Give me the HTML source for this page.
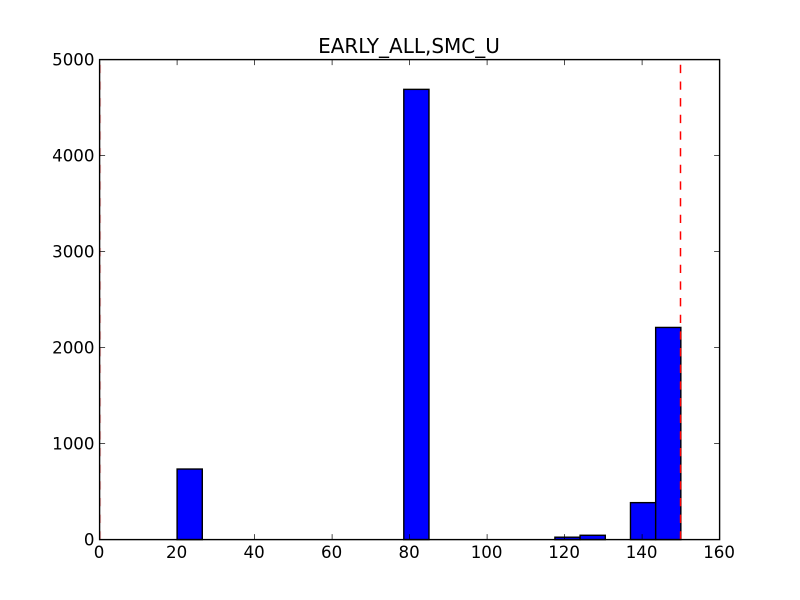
<!DOCTYPE html>
<html lang="en">
<head>
<meta charset="utf-8">
<title>EARLY_ALL,SMC_U</title>
<style>
html,body{margin:0;padding:0;background:#fff;}
svg{display:block;}
text{font-family:"DejaVu Sans",sans-serif;fill:#000;}
</style>
</head>
<body>
<svg id="chart" xmlns="http://www.w3.org/2000/svg" width="800" height="600" viewBox="0 0 800 600">
<rect width="800" height="600" fill="#fff"/>
<text id="title" x="409" y="53" font-size="20" text-anchor="middle">EARLY_ALL,SMC_U</text>
<g id="bars"></g>
<g id="reflines"></g>
<g id="axes"></g>
</svg>
<script>
const binEdges = [20, 26.5, 33, 39.5, 46, 52.5, 59, 65.5, 72, 78.5, 85, 91.5, 98, 104.5, 111, 117.5, 124, 130.5, 137, 143.5, 150];
const counts = [735, 0, 0, 0, 0, 0, 0, 0, 0, 4690, 0, 0, 0, 0, 0, 25, 45, 0, 385, 2210];
const referenceValues = [0, 150];
const xTicks = [0, 20, 40, 60, 80, 100, 120, 140, 160];
const yTicks = [0, 1000, 2000, 3000, 4000, 5000];
const xDomain = [0, 160];
const yDomain = [0, 5000];

const plot = { left: 99.6, right: 719.6, top: 59.6, bottom: 539.6 };
const NS = 'http://www.w3.org/2000/svg';
function xScale(v) { return plot.left + (v - xDomain[0]) / (xDomain[1] - xDomain[0]) * (plot.right - plot.left); }
function yScale(v) { return plot.bottom - (v - yDomain[0]) / (yDomain[1] - yDomain[0]) * (plot.bottom - plot.top); }
function make(tag, attrs, parent) {
  const el = document.createElementNS(NS, tag);
  for (const k in attrs) el.setAttribute(k, attrs[k]);
  parent.appendChild(el);
  return el;
}

const barsG = document.getElementById('bars');
counts.forEach(function (c, i) {
  const x0 = xScale(binEdges[i]);
  const x1 = xScale(binEdges[i + 1]);
  const y = yScale(c);
  const bar = make('rect', { x: x0, y: y, width: x1 - x0, height: plot.bottom - y, fill: '#0000ff', stroke: '#000', 'stroke-width': 1.4 }, barsG);
  
  
});

const axesG = document.getElementById('axes');
const tickLen = 5.5;
xTicks.forEach(function (v) {
  const x = xScale(v);
  const bottomTick = make('line', { x1: x, x2: x, y1: plot.bottom, y2: plot.bottom - tickLen, stroke: '#000', 'stroke-width': 0.7 }, axesG);
  
  
  const topTick = make('line', { x1: x, x2: x, y1: plot.top, y2: plot.top + tickLen, stroke: '#000', 'stroke-width': 0.7 }, axesG);
  
  
  const label = make('text', { x: x - 0.5, y: 558, 'font-size': 16.67, 'text-anchor': 'middle' }, axesG);
  label.textContent = String(v);
  
  
});
yTicks.forEach(function (v) {
  const y = yScale(v);
  const leftTick = make('line', { x1: plot.left, x2: plot.left + tickLen, y1: y, y2: y, stroke: '#000', 'stroke-width': 0.7 }, axesG);
  
  
  const rightTick = make('line', { x1: plot.right, x2: plot.right - tickLen, y1: y, y2: y, stroke: '#000', 'stroke-width': 0.7 }, axesG);
  
  
  const label = make('text', { x: 94.5, y: y + 6, 'font-size': 16.67, 'text-anchor': 'end' }, axesG);
  label.textContent = String(v);
  
  
});
const frame = make('rect', { x: plot.left, y: plot.top, width: plot.right - plot.left, height: plot.bottom - plot.top, fill: 'none', stroke: '#000', 'stroke-width': 1.4 }, axesG);



const refG = document.getElementById('reflines');
referenceValues.forEach(function (v) {
  const lineX = v === 0 ? xScale(v) + 1 : xScale(v) - 0.35;
  const line = make('line', { x1: lineX, x2: lineX, y1: yScale(yDomain[0]), y2: yScale(yDomain[1]), stroke: '#ff0000', 'stroke-width': v === 0 ? 1 : 1.5, 'stroke-dasharray': '8.33 8.33', 'stroke-opacity': v === 0 ? 0.3 : 1 }, refG);
  
  
});
</script>
</body>
</html>
